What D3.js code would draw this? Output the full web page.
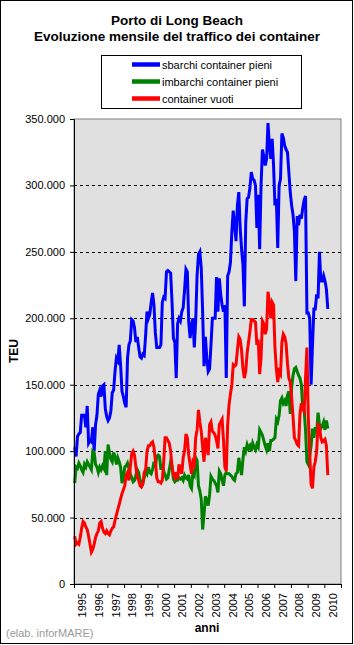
<!DOCTYPE html>
<html>
<head>
<meta charset="utf-8">
<script src="https://cdn.jsdelivr.net/npm/d3@7"></script>
<style>
  body { margin: 0; background: #fff; }
  svg { display: block; font-family: "Liberation Sans", Arial, sans-serif; }
</style>
</head>
<body>
<div id="chart"></div>
<script>
// monthly TEU (thousands), Jan 1995 onwards
const sbarchi = [
  103, 96, 111, 113, 114, 127, 127, 127, 118, 134,
  106, 108, 107, 118, 100, 120, 127, 143, 146, 141,
  149, 150, 132, 126, 123, 125, 130, 144, 146, 160,
  170, 168, 180, 165, 145, 141, 136, 133, 170, 180,
  183, 199, 198, 193, 182, 186, 178, 171, 170, 173,
  172, 187, 205, 200, 203, 212, 219, 210, 189, 178,
  178, 178, 180, 212, 216, 215, 235, 236, 235, 234,
  212, 185, 182, 155, 196, 200, 198, 205, 208, 221,
  237, 235, 197, 185, 195, 200, 178, 198, 232, 248,
  250, 238, 205, 164, 186, 170, 160, 162, 180, 200,
  200, 200, 231, 205, 230, 218, 210, 205, 210, 155,
  232, 235, 242, 265, 281, 270, 258, 285, 295, 268,
  252, 240, 209, 272, 290, 291, 298, 310, 305, 304,
  300, 268, 293, 252, 300, 327, 322, 315, 320, 347,
  330, 320, 335, 315, 285, 290, 253, 300, 305, 339,
  336, 330, 327, 325, 310, 295, 285, 278, 265, 228,
  277, 270, 278, 275, 283, 289, 292, 204, 204, 200,
  150, 180, 207, 207, 218, 215, 250, 228, 228, 232,
  228, 222, 207
];
const imbarchi = [
  76, 88, 87, 91, 89, 86, 84, 90, 88, 92,
  90, 88, 86, 100, 99, 90, 88, 84, 88, 86,
  89, 87, 100, 82, 105, 99, 94, 92, 99, 96,
  90, 95, 92, 88, 76, 80, 88, 89, 91, 87,
  83, 80, 77, 78, 82, 86, 84, 78, 77, 76,
  80, 85, 83, 88, 84, 83, 86, 92, 88, 96,
  97, 96, 86, 90, 85, 82, 79, 80, 86, 92,
  89, 79, 77, 78, 78, 80, 79, 80, 78, 82,
  80, 79, 82, 74, 72, 84, 82, 95, 93, 74,
  70, 64, 41, 52, 66, 63, 59, 67, 81, 79,
  78, 76, 74, 69, 85, 83, 78, 74, 82, 84,
  83, 83, 82, 81, 79, 78, 83, 84, 95, 88,
  82, 94, 103, 100, 105, 102, 104, 100, 106, 103,
  101, 105, 103, 116, 114, 112, 108, 104, 101, 106,
  100, 108, 108, 109, 110, 124, 122, 127, 138, 140,
  136, 138, 134, 142, 145, 128, 148, 157, 162, 163,
  160, 157, 155, 150, 132, 131, 116, 92, 90, 96,
  104, 117, 110, 118, 114, 129, 120, 117, 119, 122,
  116, 123, 117
];
const vuoti = [
  36, 30, 31, 30, 35, 42, 47, 46, 43, 41,
  36, 30, 24, 26, 30, 35, 38, 40, 46, 47,
  42, 39, 38, 40, 38, 37, 40, 42, 43, 48,
  52, 56, 60, 64, 68, 71, 74, 82, 84, 78,
  88, 98, 100, 97, 88, 80, 78, 74, 73, 75,
  84, 86, 100, 104, 104, 106, 107, 103, 93, 80,
  77, 77, 76, 78, 92, 110, 110, 108, 106, 100,
  88, 82, 80, 84, 79, 90, 86, 83, 95, 100,
  113, 110, 97, 90, 83, 92, 90, 110, 116, 131,
  122, 115, 103, 92, 110, 104, 97, 120, 122, 115,
  114, 112, 108, 102, 120, 122, 124, 108, 88, 85,
  120, 135, 143, 150, 165, 164, 165, 176, 186, 184,
  176, 162, 155, 160, 174, 182, 190, 199, 199, 198,
  197, 180, 184, 158, 170, 198, 196, 188, 192, 220,
  212, 200, 212, 210, 178, 162, 152, 160, 158, 182,
  188, 186, 181, 166, 155, 152, 140, 126, 110, 108,
  105, 104, 128, 136, 132, 130, 155, 178, 125, 98,
  75, 72, 88, 92, 100, 120, 119, 110, 107, 108,
  109, 104, 82
];

const anni = d3.range(1995, 2011);
const yTicks = [0, 50000, 100000, 150000, 200000, 250000, 300000, 350000];

const series = [
  { name: 'sbarchi container pieni', color: '#0000ff', values: sbarchi },
  { name: 'imbarchi container pieni', color: '#008000', values: imbarchi },
  { name: 'container vuoti', color: '#ff0000', values: vuoti }
];

const W = 354, H = 645;
const plot = { left: 74, right: 341, top: 119, bottom: 584 };

const it = d3.formatLocale({ decimal: ',', thousands: '.', grouping: [3], currency: ['', '€'] });
const fmt = it.format(',');

const x = d3.scaleLinear()
    .domain([1995, 2011])
    .range([plot.left, plot.right]);
const y = d3.scaleLinear()
    .domain([0, 350000])
    .range([plot.bottom, plot.top]);

const svg = d3.select('#chart')
    .append('svg')
    .attr('width', W)
    .attr('height', H);

svg.append('rect')
    .attr('width', W).attr('height', H)
    .attr('fill', '#fff');

// titles
svg.append('text')
    .attr('x', 177).attr('y', 25)
    .attr('text-anchor', 'middle')
    .style('font-size', '13.5px').style('font-weight', 'bold')
    .text('Porto di Long Beach');
svg.append('text')
    .attr('x', 177).attr('y', 41)
    .attr('text-anchor', 'middle')
    .style('font-size', '13.5px').style('font-weight', 'bold')
    .text('Evoluzione mensile del traffico dei container');

// plot background
svg.append('rect')
    .attr('x', plot.left).attr('y', plot.top)
    .attr('width', plot.right - plot.left)
    .attr('height', plot.bottom - plot.top)
    .attr('fill', '#e0e0e0')
    .attr('stroke', '#808080');

// dashed gridlines
svg.append('g')
    .selectAll('line')
    .data(yTicks.filter(d => d > 0 && d < 350000))
    .enter()
    .append('line')
    .attr('x1', plot.left).attr('x2', plot.right)
    .attr('y1', d => Math.round(y(d)) + 0.5)
    .attr('y2', d => Math.round(y(d)) + 0.5)
    .attr('stroke', '#000')
    .attr('stroke-dasharray', '3,3');

// lines
const line = d3.line()
    .x((d, i) => x(1995 + (i + 0.5) / 12))
    .y(d => y(d * 1000));

svg.append('g')
    .selectAll('path')
    .data(series)
    .enter()
    .append('path')
    .attr('d', d => line(d.values))
    .attr('fill', 'none')
    .attr('stroke', d => d.color)
    .attr('stroke-width', 3)
    .attr('stroke-linejoin', 'miter');

// y axis
const yAxis = svg.append('g')
    .attr('transform', `translate(${plot.left},0)`)
    .call(d3.axisLeft(y).tickValues(yTicks).tickSize(4).tickPadding(5).tickFormat(fmt));
yAxis.select('.domain').attr('stroke', '#000');
yAxis.selectAll('text')
    .style('font-size', '11px')
    .style('font-family', '"Liberation Sans", Arial, sans-serif')
    .attr('fill', '#000');

// x axis: ticks at year boundaries, labels centred in each year
const xAxis = svg.append('g')
    .attr('transform', `translate(0,${plot.bottom})`)
    .call(d3.axisBottom(x).tickValues(d3.range(1995, 2012)).tickSize(4).tickSizeOuter(0).tickFormat(''));
xAxis.select('.domain').attr('stroke', '#000');

svg.append('g')
    .selectAll('text')
    .data(anni)
    .enter()
    .append('text')
    .attr('transform', d => `translate(${x(d + 0.5) + 4},593) rotate(-90)`)
    .attr('text-anchor', 'end')
    .style('font-size', '11px')
    .text(d => d);

// axis titles
svg.append('text')
    .attr('transform', 'translate(18,351) rotate(-90)')
    .attr('text-anchor', 'middle')
    .style('font-size', '12px').style('font-weight', 'bold')
    .text('TEU');
svg.append('text')
    .attr('x', 207).attr('y', 632)
    .attr('text-anchor', 'middle')
    .style('font-size', '12px').style('font-weight', 'bold')
    .text('anni');

svg.append('text')
    .attr('x', 6).attr('y', 637)
    .attr('fill', '#999')
    .style('font-size', '11px')
    .text('(elab. inforMARE)');

// legend
const legend = svg.append('g');
legend.append('rect')
    .attr('x', 101.5).attr('y', 55.5)
    .attr('width', 200).attr('height', 53)
    .attr('fill', '#fff').attr('stroke', '#000');
const rows = legend.selectAll('.row')
    .data(series)
    .enter()
    .append('g')
    .attr('class', 'row')
    .attr('transform', (d, i) => `translate(0,${64.5 + i * 17})`);
rows.append('line')
    .attr('x1', 132).attr('x2', 160)
    .attr('stroke', d => d.color)
    .attr('stroke-width', 4.5);
rows.append('text')
    .attr('x', 162).attr('y', 4)
    .style('font-size', '11px')
    .text(d => d.name);

// outer frame
svg.append('rect')
    .attr('x', 0.5).attr('y', 0.5)
    .attr('width', W - 2).attr('height', H - 2)
    .attr('fill', 'none').attr('stroke', '#000');
</script>
</body>
</html>
